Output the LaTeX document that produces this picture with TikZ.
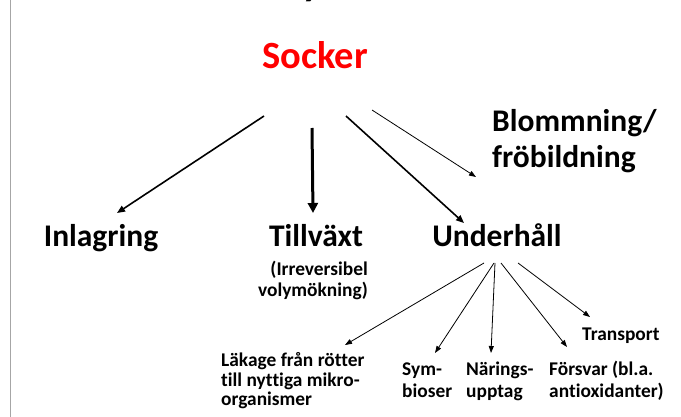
\documentclass[tikz,border=0pt]{standalone}
\usepackage{fontspec}
\setmainfont{Carlito}[Ligatures=NoCommon]
\usetikzlibrary{arrows.meta,calc}
\tikzset{
  big/.style={font=\fontsize{31.5}{37}\selectfont\bfseries, inner sep=0pt},
  small/.style={font=\fontsize{19.4}{21}\selectfont\bfseries, inner sep=0pt},
  thinarr/.style={line width=0.8pt, -{Triangle[length=7pt,width=5pt]}},
  medarr/.style={line width=1.6pt, -{Triangle[length=8pt,width=6.5pt]}},
  thickarr/.style={line width=3pt, -{Triangle[length=10pt,width=10pt]}},
}
\begin{document}
\begin{tikzpicture}[x=1pt,y=-1pt]
\useasboundingbox (0,0) rectangle (681,417);
\fill[white] (0,0) rectangle (681,417);
\draw[gray!70, line width=1pt] (10,-1) -- (10,418);
\begin{scope}
\clip (0,0) rectangle (681,417);
\node[font=\fontsize{40}{48}\selectfont\bfseries, inner sep=0pt, anchor=base] (ttl) at (312,-4) {y};
\end{scope}
\node[font=\fontsize{38.5}{46}\selectfont\bfseries, text=red, inner sep=0pt, anchor=base] (socker) at (315,69) {Socker};
\node[big, anchor=base] (inlag) at (101,247) {Inlagring};
\node[big, anchor=base] (till) at (316,247) {Tillväxt};
\node[big, anchor=base] (under) at (497,247) {Underhåll};
\node[big, anchor=base west] (blom1) at (492,132) {Blommning/};
\node[big, anchor=base west] (blom2) at (492,168) {fröbildning};
\node[small, anchor=base east] (irr1) at (368,276) {(Irreversibel};
\node[small, anchor=base east] (irr2) at (368,296) {volymökning)};
\node[small, anchor=base west] (lak1) at (221,366) {Läkage från rötter};
\node[small, anchor=base west] (lak2) at (221,386) {till nyttiga mikro-};
\node[small, anchor=base west] (lak3) at (221,405) {organismer};
\node[small, anchor=base west] (sym1) at (402,375) {Sym-};
\node[small, anchor=base west] (sym2) at (402,397) {bioser};
\node[small, anchor=base west] (nar1) at (466,375) {Närings-};
\node[small, anchor=base west] (nar2) at (466,397) {upptag};
\node[small, anchor=base west] (for1) at (549,375) {Försvar (bl.a.};
\node[small, anchor=base west] (for2) at (549,397) {antioxidanter)};
\node[small, anchor=base west] (trans) at (582,340) {Transport};
% arrows from Socker
\draw[medarr] ([shift={(-51,47)}]socker.base) -- ([shift={(16,-34)}]inlag.base);
\draw[thickarr] ([shift={(-3,59)}]socker.base) -- ([shift={(-3,-34)}]till.base);
\draw[medarr] ([shift={(31,47)}]socker.base) -- ([shift={(-33,-24)}]under.base);
\draw[thinarr] ([shift={(57,41)}]socker.base) -- ([shift={(-16,45)}]blom1.base west);
% arrows from Underhall
\draw[thinarr] ([shift={(-13,16)}]under.base) -- ([shift={(124,-21)}]lak1.base west);
\draw[thinarr] ([shift={(-3,16)}]under.base) -- ([shift={(33,-22)}]sym1.base west);
\draw[thinarr] ([shift={(-2,16)}]under.base) -- ([shift={(25,-22)}]nar1.base west);
\draw[thinarr] ([shift={(4,16)}]under.base) -- ([shift={(18,-28)}]for1.base west);
\draw[thinarr] ([shift={(21,16)}]under.base) -- ([shift={(8,-23)}]trans.base west);
\end{tikzpicture}
\end{document}
